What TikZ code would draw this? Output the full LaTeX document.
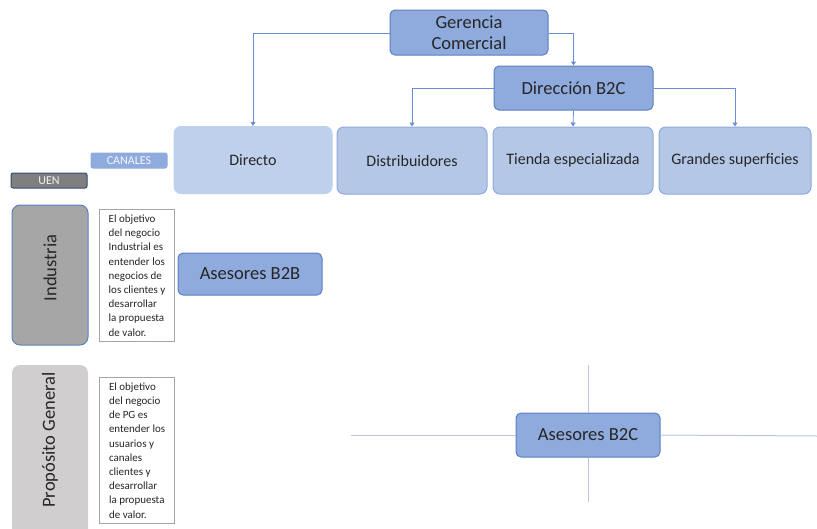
\documentclass[tikz,border=0pt]{standalone}
\usepackage{fontspec}
\setmainfont{Carlito}
\usetikzlibrary{arrows.meta}
\definecolor{boxblue}{HTML}{8FAADC}
\definecolor{boxedge}{HTML}{5B7FC2}
\definecolor{paleblue}{HTML}{B4C7E7}
\definecolor{paleedge}{HTML}{8EA9DB}
\definecolor{palest}{HTML}{BFD0EC}
\definecolor{linkblue}{HTML}{6B8FD3}
\definecolor{crossblue}{HTML}{B4C7E7}
\definecolor{txt}{HTML}{262626}
\definecolor{darkgray}{HTML}{7F7F7F}
\definecolor{midgray}{HTML}{A6A6A6}
\definecolor{lightgray}{HTML}{D0CECE}
\tikzset{
  x=1pt, y=-1pt,
  mainbox/.style={draw=boxedge, fill=boxblue, line width=1pt, rounded corners=5pt,
    inner sep=0pt, text=txt, align=center, font=\fontsize{18.5}{21}\selectfont},
  chanbox/.style={draw=paleedge, fill=paleblue, line width=1pt, rounded corners=7pt,
    inner sep=0pt, text=txt, align=center, minimum height=67pt, font=\fontsize{16}{19}\selectfont},
  tagbox/.style={rounded corners=2pt, inner sep=0pt, line width=1pt, minimum width=76pt,
    minimum height=15pt, font=\fontsize{12}{14}\selectfont},
  uenbox/.style={rounded corners=8pt, inner sep=0pt, minimum width=76pt},
  uenlabel/.style={rotate=90, text=txt, font=\fontsize{18.5}{21}\selectfont},
  notebox/.style={draw=midgray, line width=1.2pt, fill=white, inner xsep=7pt, inner ysep=5pt,
    align=left, text=txt, font=\fontsize{11}{14.2}\selectfont, anchor=north west},
  link/.style={draw=linkblue, line width=0.8pt, -{Triangle[width=5pt,length=4pt]}},
  cross/.style={draw=crossblue, line width=1pt}
}
\begin{document}
\begin{tikzpicture}
\useasboundingbox (0,0) rectangle (817,528);

% management boxes
\node[mainbox, minimum width=158pt, minimum height=45pt]
  (ger) at (469,32.5) {Gerencia\\Comercial};
\node[mainbox, minimum width=159pt, minimum height=44pt]
  (dir) at (573.5,88) {Dirección B2C};

% channel boxes
\node[chanbox, draw=palest, fill=palest, minimum width=158pt] (directo) at (253,160) {Directo};
\node[chanbox, minimum width=150pt] (dist) at (412,160.5) {Distribuidores};
\node[chanbox, minimum width=160pt] (tienda) at (573,160.5) {Tienda especializada};
\node[chanbox, minimum width=152pt] (grandes) at (735,160.5) {Grandes superficies};

% connectors
\draw[link] (ger.west |- 0,33) -| (directo.north);
\draw[link] (ger.east |- 0,33) -| (dir.north);
\draw[link] (dir.west) -| (dist.north);
\draw[link] (dir.south) -- (tienda.north);
\draw[link] (dir.east) -| (grandes.north);

% header tags
\node[tagbox, draw=boxblue, fill=boxblue, text=white!92!boxblue] (canales) at (129,160.5) {CANALES};
\node[tagbox, draw=boxedge!60!black, fill=darkgray, text=white!90!gray] (uen) at (49,180.5) {UEN};

% business units
\node[uenbox, draw=boxedge, line width=1pt, fill=midgray, minimum height=140pt] (ind) at (50,275) {};
\node[uenlabel] (indlbl) at (50,268) {Industria};
\node[uenbox, fill=lightgray, minimum height=175pt] (pg) at (50,452.5) {};
\node[uenlabel] (pglbl) at (50,440) {Propósito General};

% descriptions
\node[notebox, minimum width=75pt, minimum height=132pt] (nota1) at (99,209)
  {El objetivo\\del negocio\\Industrial es\\entender los\\negocios de\\los clientes y\\desarrollar\\la propuesta\\de valor.};
\node[notebox, minimum width=75pt, minimum height=141pt] (nota2) at (99,377)
  {El objetivo\\del negocio\\de PG es\\entender los\\usuarios y\\canales\\clientes y\\desarrollar\\la propuesta\\de valor.};

% advisors
\node[mainbox, minimum width=144pt, minimum height=42pt] (b2b) at (250,274) {Asesores B2B};
\node[mainbox, minimum width=144pt, minimum height=44pt] (b2c) at (588,435) {Asesores B2C};

% cross lines around Asesores B2C
\coordinate (cl) at (351,435);
\coordinate (cr) at (817,436);
\coordinate (ct) at (588,365);
\coordinate (cb) at (588,502);
\draw[cross] (cl) -- (b2c.west);
\draw[cross] (b2c.east) -- (cr);
\draw[cross] (ct) -- (b2c.north);
\draw[cross] (b2c.south) -- (cb);
\end{tikzpicture}
\end{document}
